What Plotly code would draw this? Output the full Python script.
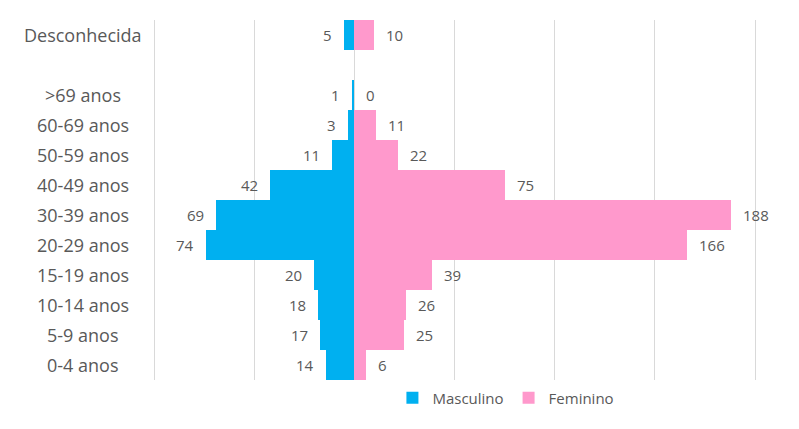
import plotly.graph_objects as go

categories = ["0-4 anos", "5-9 anos", "10-14 anos", "15-19 anos", "20-29 anos",
              "30-39 anos", "40-49 anos", "50-59 anos", "60-69 anos", ">69 anos",
              " ", "Desconhecida"]
masculino = [14, 17, 18, 20, 74, 69, 42, 11, 3, 1, None, 5]
feminino = [6, 25, 26, 39, 166, 188, 75, 22, 11, 0, None, 10]

BLUE = "#00B0F0"
PINK = "#FF99CC"
TXT = "#595959"
FONT = "Open Sans, Noto Sans, sans-serif"

fig = go.Figure()
fig.add_trace(go.Bar(
    y=categories, x=[-v if v is not None else None for v in masculino],
    orientation="h", name="Masculino", marker=dict(color=BLUE, line=dict(width=0)),
    hoverinfo="skip"))
fig.add_trace(go.Bar(
    y=categories, x=feminino,
    orientation="h", name="Feminino", marker=dict(color=PINK, line=dict(width=0)),
    hoverinfo="skip"))

annotations = []
for c, m, f in zip(categories, masculino, feminino):
    if m is not None:
        annotations.append(dict(x=-m, y=c, xref="x", yref="y", text=str(m),
                                showarrow=False, xanchor="right", xshift=-10,
                                font=dict(size=15, color=TXT, family=FONT)))
    if f is not None:
        annotations.append(dict(x=f, y=c, xref="x", yref="y", text=str(f),
                                showarrow=False, xanchor="left", xshift=10,
                                font=dict(size=15, color=TXT, family=FONT)))
    annotations.append(dict(x=-0.114, y=c, xref="paper", yref="y", text=c,
                            showarrow=False, xanchor="center",
                            font=dict(size=18, color=TXT, family=FONT)))

# page body has an 8px margin; compensate so the plot lands where the reference has it
fig.update_layout(
    width=791, height=421,
    margin=dict(l=144, r=42, t=12, b=49),
    barmode="relative", bargap=0,
    plot_bgcolor="white", paper_bgcolor="white",
    font=dict(family=FONT, color=TXT, size=14),
    xaxis=dict(range=[-101, 201], dtick=50, tick0=0, showticklabels=False,
               showgrid=True, gridcolor="#D9D9D9", gridwidth=1,
               zeroline=True, zerolinecolor="#D9D9D9", zerolinewidth=1,
               fixedrange=True),
    yaxis=dict(categoryorder="array", categoryarray=categories,
               showticklabels=False, showgrid=False, zeroline=False,
               fixedrange=True),
    legend=dict(orientation="h", x=0.585, xanchor="center", y=-0.05, yanchor="middle",
                font=dict(size=15, color=TXT, family=FONT), itemwidth=30,
                tracegroupgap=0),
    annotations=annotations,
    showlegend=True,
)

fig.write_html("out.html")
